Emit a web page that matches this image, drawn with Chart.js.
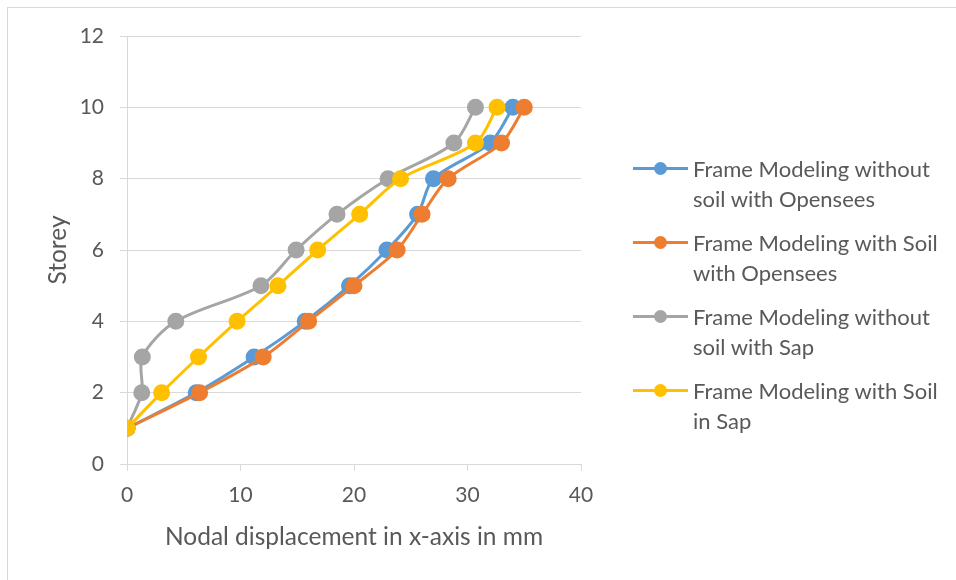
<!DOCTYPE html>
<html>
<head>
<meta charset="utf-8">
<script src="https://cdn.jsdelivr.net/npm/chart.js@4/dist/chart.umd.min.js"></script>
<style>
  html, body { margin: 0; padding: 0; background: #fff; }
  #wrap { position: relative; width: 956px; height: 580px; overflow: hidden; }
  #frame { position: absolute; left: 7px; top: 7px; right: -10px; bottom: -10px; border-top: 1px solid #d9d9d9; border-left: 1px solid #d9d9d9; pointer-events: none; }
  canvas { position: absolute; left: 0; top: 0; }
  #legend { position: absolute; left: 0; top: 0; font-family: Lato, "Open Sans", sans-serif; font-size: 22px; color: #595959; }
  .item { position: absolute; left: 633px; width: 320px; }
  .sym { position: absolute; left: 0; top: 13px; width: 55px; height: 3px; }
  .dot { position: absolute; left: 21px; top: -5px; width: 13px; height: 13px; border-radius: 50%; }
  .txt { position: absolute; left: 60px; top: 0; line-height: 30px; white-space: nowrap; }
</style>
</head>
<body>
<div id="wrap">
  <canvas id="c" width="956" height="580"></canvas>
  <div id="frame"></div>
  <div id="legend"></div>
</div>
<script>
// ---- data ----
const storeys = [1, 2, 3, 4, 5, 6, 7, 8, 9, 10];
const seriesNames = [
  ["Frame Modeling without", "soil with Opensees"],
  ["Frame Modeling with Soil", "with Opensees"],
  ["Frame Modeling without", "soil with Sap"],
  ["Frame Modeling with Soil", "in Sap"]
];
const noSoilOpensees = [0, 6.1, 11.2, 15.7, 19.6, 22.9, 25.6, 27.0, 32.0, 34.0];
const soilOpensees   = [0, 6.4, 12.0, 16.0, 20.0, 23.8, 26.0, 28.3, 33.0, 35.0];
const noSoilSap      = [0, 1.3, 1.35, 4.3, 11.8, 14.9, 18.5, 23.0, 28.8, 30.7];
const soilSap        = [0, 3.05, 6.3, 9.7, 13.3, 16.8, 20.5, 24.1, 30.7, 32.6];
const xTicks = [0, 10, 20, 30, 40];
const yTicks = [0, 2, 4, 6, 8, 10, 12];
const xTitle = "Nodal displacement in x-axis in mm";
const yTitle = "Storey";

const colors = ["#5B9BD5", "#ED7D31", "#A5A5A5", "#FFC000"];
const seriesX = [noSoilOpensees, soilOpensees, noSoilSap, soilSap];

const FONT = "Lato";
const TXT = "#595959";
const GRID = "#d9d9d9";

const datasets = seriesX.map((xs, i) => ({
  label: seriesNames[i].join(" "),
  data: xs.map((x, k) => ({ x: x, y: storeys[k] })),
  showLine: true,
  borderColor: colors[i],
  backgroundColor: colors[i],
  pointBackgroundColor: colors[i],
  pointBorderColor: colors[i],
  borderWidth: 3,
  pointRadius: 7,
  pointHoverRadius: 7,
  tension: 0.3,
  order: 4 - i
}));

new Chart(document.getElementById("c"), {
  type: "scatter",
  data: { datasets },
  options: {
    responsive: false,
    animation: false,
    devicePixelRatio: 1,
    layout: { padding: { left: 0, top: 36, right: 375, bottom: 0 } },
    plugins: { legend: { display: false }, tooltip: { enabled: false } },
    scales: {
      x: {
        type: "linear",
        min: xTicks[0], max: xTicks[xTicks.length - 1],
        afterBuildTicks: s => { s.ticks = xTicks.map(v => ({ value: v })); },
        afterFit: s => { s.height = 116; },
        grid: { drawOnChartArea: false, drawTicks: true, tickLength: 7, color: GRID, lineWidth: 1 },
        border: { color: GRID, width: 1 },
        ticks: { color: TXT, font: { family: FONT, size: 21 }, padding: 12, maxRotation: 0 },
        title: { display: true, text: xTitle, color: TXT, font: { family: FONT, size: 24.5 }, padding: { top: 0, bottom: 28.5 } }
      },
      y: {
        type: "linear",
        min: yTicks[0], max: yTicks[yTicks.length - 1],
        afterBuildTicks: s => { s.ticks = yTicks.map(v => ({ value: v })); },
        afterFit: s => { s.width = 127; },
        grid: { drawOnChartArea: true, drawTicks: true, tickLength: 7, color: GRID, lineWidth: 1 },
        border: { color: GRID, width: 1 },
        ticks: { color: TXT, font: { family: FONT, size: 21 }, padding: 16 },
        title: { display: true, text: yTitle, color: TXT, font: { family: FONT, size: 24.5 }, padding: { top: 43, bottom: 0 } }
      }
    }
  }
});

// HTML legend
const legend = document.getElementById("legend");
const tops = [154, 228, 302, 376];
seriesNames.forEach((lines, i) => {
  const it = document.createElement("div");
  it.className = "item";
  it.style.top = tops[i] + "px";
  const sym = document.createElement("div");
  sym.className = "sym";
  sym.style.background = colors[i];
  const dot = document.createElement("div");
  dot.className = "dot";
  dot.style.background = colors[i];
  sym.appendChild(dot);
  const t = document.createElement("div");
  t.className = "txt";
  t.innerHTML = lines.join("<br>");
  it.appendChild(sym);
  it.appendChild(t);
  legend.appendChild(it);
});
</script>
</body>
</html>
